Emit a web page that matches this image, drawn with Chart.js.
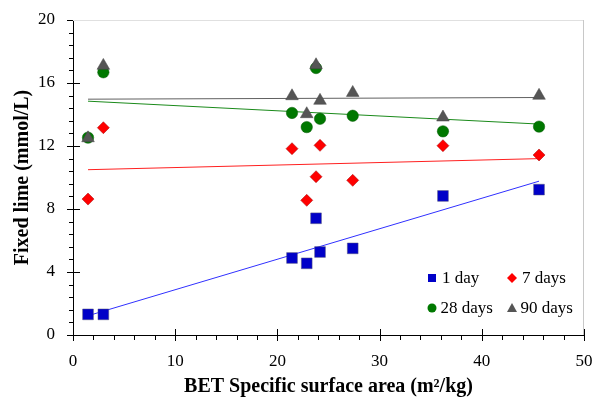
<!DOCTYPE html>
<html>
<head>
<meta charset="utf-8">
<script src="https://cdn.jsdelivr.net/npm/chart.js@4.4.1/dist/chart.umd.min.js"></script>
<style>
  html, body { margin: 0; padding: 0; background: #fff; }
  #wrap { width: 595px; height: 399px; }
</style>
</head>
<body>
<div id="wrap"><canvas id="limeChart" width="595" height="399"></canvas></div>
<script>
// BET specific surface area (m2/kg)
const surfaceArea = [1.47, 2.97, 21.43, 22.87, 23.78, 24.17, 27.37, 36.2, 45.6];
// fixed lime (mmol/L) by curing age
const day1 = [1.31, 1.31, 4.89, 4.55, 7.41, 5.27, 5.5, 8.83, 9.23];
const day7 = [8.63, 13.16, 11.83, 8.55, 10.05, 12.04, 9.82, 12.02, 11.43];
const day28 = [12.53, 16.68, 14.1, 13.2, 16.95, 13.73, 13.92, 12.93, 13.23];
const day90 = [12.5, 17.1, 15.17, 14.03, 17.14, 14.88, 15.38, 13.82, 15.2];
const seriesLabels = ['1 day', '7 days', '28 days', '90 days'];

const xTicks = [0, 10, 20, 30, 40, 50];
const yTicks = [0, 4, 8, 12, 16, 20];

const SERIF = '"Liberation Serif"';

function toPoints(ys) {
    return ys.map((y, i) => ({ x: surfaceArea[i], y: y }));
}

// linear trendline (least squares) over the data range, like the spreadsheet trendline
function trend(ys) {
    const n = ys.length;
    const mx = surfaceArea.reduce((a, b) => a + b, 0) / n;
    const my = ys.reduce((a, b) => a + b, 0) / n;
    let sxy = 0, sxx = 0;
    for (let i = 0; i < n; i++) {
        sxy += (surfaceArea[i] - mx) * (ys[i] - my);
        sxx += (surfaceArea[i] - mx) ** 2;
    }
    const b = sxy / sxx;
    const a = my - b * mx;
    const x0 = Math.min(...surfaceArea), x1 = Math.max(...surfaceArea);
    return [{ x: x0, y: a + b * x0 }, { x: x1, y: a + b * x1 }];
}

const trendLine = (ys, color, order) => ({
    data: trend(ys),
    showLine: true,
    borderColor: color,
    borderWidth: 1,
    pointRadius: 0,
    order: order
});

// minor/major tick marks + top/right frame
const axisTicks = {
    id: 'axisTicks',
    afterDraw(chart) {
        const { ctx, chartArea: a, scales: { x, y } } = chart;
        ctx.save();
        ctx.strokeStyle = '#000';
        ctx.lineWidth = 1;
        ctx.beginPath();
        for (let v = 0; v <= 20.001; v += 0.8) {
            const py = Math.round(y.getPixelForValue(v)) + 0.5;
            const major = Math.abs(v / 4 - Math.round(v / 4)) < 1e-6;
            ctx.moveTo(a.left - (major ? 6 : 4), py);
            ctx.lineTo(a.left + (major ? 7 : 0), py);
        }
        for (let v = 0; v <= 50.001; v += 2) {
            const px = Math.round(x.getPixelForValue(v)) + 0.5;
            const major = v % 10 === 0;
            ctx.moveTo(px, a.bottom - (major ? 6 : 0));
            ctx.lineTo(px, a.bottom + (major ? 6 : 5));
        }
        ctx.stroke();

        ctx.beginPath();
        ctx.strokeStyle = '#e0e0e0';
        ctx.moveTo(a.left, a.top + 0.5);
        ctx.lineTo(a.right, a.top + 0.5);
        ctx.stroke();
        ctx.beginPath();
        ctx.strokeStyle = '#c8c8c8';
        ctx.moveTo(a.right - 0.5, a.top);
        ctx.lineTo(a.right - 0.5, a.bottom);
        ctx.stroke();
        ctx.restore();
    }
};

// legend inside the plot, 2 x 2
const insideLegend = {
    id: 'insideLegend',
    afterDraw(chart) {
        const ctx = chart.ctx;
        const a = chart.chartArea;
        const cols = [a.right - 152, a.right - 72];
        const rows = [a.bottom - 57, a.bottom - 27];
        ctx.save();
        ctx.font = '17px ' + SERIF;
        ctx.textBaseline = 'middle';
        ctx.fillStyle = '#000';
        seriesLabels.forEach((lab, i) => {
            const cx = cols[i % 2], cy = rows[Math.floor(i / 2)];
            ctx.beginPath();
            if (i === 0) {
                ctx.fillStyle = '#0000c8';
                ctx.rect(cx - 4, cy - 4, 8, 8);
            } else if (i === 1) {
                ctx.fillStyle = '#ff0000';
                ctx.moveTo(cx, cy - 5); ctx.lineTo(cx + 5, cy);
                ctx.lineTo(cx, cy + 5); ctx.lineTo(cx - 5, cy);
                ctx.closePath();
            } else if (i === 2) {
                ctx.fillStyle = '#007800';
                ctx.arc(cx, cy, 4.5, 0, Math.PI * 2);
            } else {
                ctx.fillStyle = '#555';
                ctx.moveTo(cx, cy - 5); ctx.lineTo(cx + 5, cy + 4);
                ctx.lineTo(cx - 5, cy + 4);
                ctx.closePath();
            }
            ctx.fill();
            ctx.fillStyle = '#000';
            ctx.fillText(lab, cx + (i < 2 ? 10 : 8.5), cy + 1);
        });
        ctx.restore();
    }
};

new Chart(document.getElementById('limeChart'), {
    type: 'scatter',
    data: {
        datasets: [
            {
                label: seriesLabels[3], data: toPoints(day90), pointStyle: 'triangle',
                pointRadius: 7.3, backgroundColor: '#555555', borderColor: '#444', borderWidth: 0.5, order: 0
            },
            {
                label: seriesLabels[2], data: toPoints(day28), pointStyle: 'circle',
                pointRadius: 5.7, backgroundColor: '#007800', borderColor: '#005a00', borderWidth: 0.5, order: 1
            },
            {
                label: seriesLabels[1], data: toPoints(day7), pointStyle: 'rectRot',
                pointRadius: 6, backgroundColor: '#ff0000', borderColor: '#a00000', borderWidth: 0.5, order: 2
            },
            {
                label: seriesLabels[0], data: toPoints(day1), pointStyle: 'rect',
                pointRadius: 7.6, backgroundColor: '#0000c8', borderColor: '#55557a', borderWidth: 0.5, order: 3
            },
            trendLine(day1, '#3030ff', 10),
            trendLine(day7, '#ff2020', 11),
            trendLine(day28, '#1a8a1a', 12),
            trendLine(day90, '#606060', 13)
        ]
    },
    options: {
        responsive: false,
        animation: false,
        layout: { autoPadding: false, padding: { top: 20, right: 11, left: 0, bottom: 0 } },
        plugins: {
            legend: { display: false },
            tooltip: { enabled: false }
        },
        scales: {
            x: {
                type: 'linear',
                min: 0,
                max: 50,
                afterFit: s => { s.height = 64; s.paddingLeft = 0; s.paddingRight = 0; },
                afterBuildTicks: s => { s.ticks = xTicks.map(v => ({ value: v })); },
                grid: { display: false, drawTicks: false },
                border: { display: true, color: '#000', width: 1 },
                ticks: {
                    padding: 16,
                    color: '#000',
                    font: { family: SERIF, size: 17 }
                },
                title: {
                    display: true,
                    text: 'BET Specific surface area (m²/kg)',
                    color: '#000',
                    font: { family: SERIF, size: 20, weight: 'bold' },
                    padding: { top: 0, bottom: 0 }
                }
            },
            y: {
                min: 0,
                max: 20,
                afterFit: s => { s.width = 73; s.paddingTop = 0; s.paddingBottom = 0; },
                afterBuildTicks: s => { s.ticks = yTicks.map(v => ({ value: v })); },
                grid: { display: false, drawTicks: false },
                border: { display: true, color: '#000', width: 1 },
                ticks: {
                    padding: 18,
                    color: '#000',
                    font: { family: SERIF, size: 17 }
                },
                title: {
                    display: true,
                    text: 'Fixed lime (mmol/L)',
                    color: '#000',
                    font: { family: SERIF, size: 20, weight: 'bold' },
                    padding: { top: 11, bottom: 0 }
                }
            }
        }
    },
    plugins: [axisTicks, insideLegend]
});
</script>
</body>
</html>
